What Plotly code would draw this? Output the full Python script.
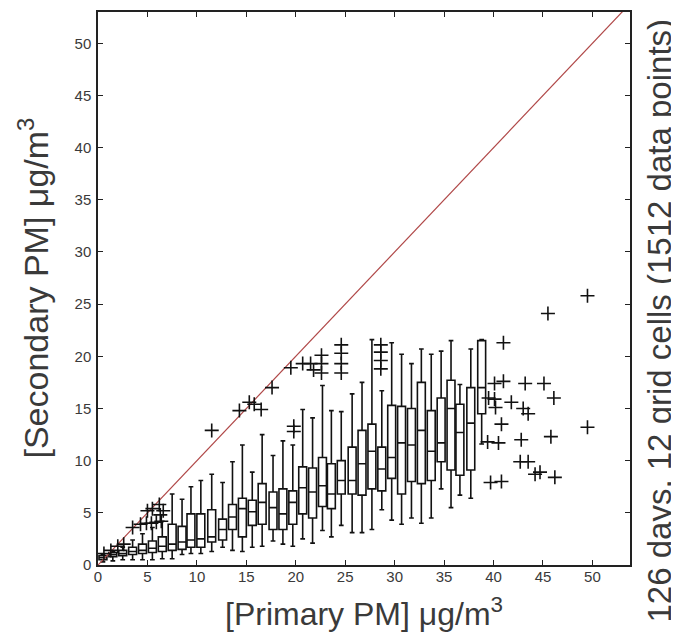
import plotly.graph_objects as go

# box positions (primary PM bins) and box statistics (secondary PM)
positions = [0.5, 1.5, 2.5, 3.5, 4.5, 5.5, 6.5, 7.5, 8.5, 9.4, 10.4, 11.5, 12.6,
             13.6, 14.6, 15.6, 16.6, 17.7, 18.7, 19.7, 20.7, 21.7, 22.7, 23.6,
             24.6, 25.7, 26.7, 27.7, 28.7, 29.7, 30.7, 31.7, 32.7, 33.7, 34.7,
             35.7, 36.6, 37.7, 38.8]
q1 = [0.5, 0.8, 0.9, 1.0, 1.1, 1.2, 1.3, 1.4, 1.5, 1.7, 1.7, 2.2, 2.4,
      3.4, 2.7, 3.8, 3.9, 3.4, 3.4, 3.9, 4.9, 4.5, 5.6, 5.4,
      6.8, 6.8, 6.7, 7.3, 7.1, 8.3, 6.8, 8.0, 7.8, 8.1, 9.9,
      9.1, 8.6, 9.1, 14.5]
medians = [0.7, 1.0, 1.1, 1.3, 1.4, 1.6, 1.8, 2.0, 2.2, 2.4, 2.5, 2.7, 3.4,
           4.6, 5.4, 5.1, 6.0, 5.5, 4.9, 6.0, 7.4, 7.0, 7.6, 6.8,
           8.1, 8.1, 9.7, 10.9, 9.2, 10.3, 11.7, 11.5, 12.9, 10.9, 11.7,
           15.0, 12.7, 13.6, 17.0]
q3 = [0.9, 1.2, 1.4, 1.7, 2.0, 2.3, 2.7, 3.9, 3.7, 4.9, 4.9, 5.3, 4.4,
      5.8, 6.4, 6.2, 7.8, 7.0, 7.3, 7.1, 9.4, 9.3, 10.3, 9.7,
      10.0, 11.3, 12.9, 13.5, 11.3, 15.3, 15.2, 15.0, 17.5, 14.8, 16.0,
      17.7, 15.4, 17.0, 21.5]
whisker_lo = [0.3, 0.4, 0.5, 0.5, 0.5, 0.5, 0.6, 0.6, 1.0, 1.1, 1.1, 1.3, 1.7,
              1.4, 1.3, 1.7, 1.8, 2.3, 2.0, 1.8, 2.5, 2.1, 3.3, 2.7,
              3.8, 3.1, 3.1, 3.4, 5.3, 4.3, 3.9, 4.5, 4.0, 4.5, 7.3,
              5.5, 6.7, 6.4, 11.6]
whisker_hi = [1.0, 1.3, 1.7, 2.4, 3.0, 3.6, 4.2, 6.8, 6.3, 7.5, 8.1, 8.7, 7.9,
              9.9, 11.5, 8.9, 12.5, 10.5, 11.9, 11.5, 14.9, 14.1, 17.2, 14.8,
              14.7, 16.4, 17.5, 21.6, 16.7, 21.3, 20.2, 19.3, 20.7, 20.2, 20.5,
              21.5, 17.3, 20.7, 21.6]

# outliers
out_x = [0.6, 1.3, 2.0, 2.6, 3.5, 4.3, 4.9, 5.4, 5.9, 6.4, 5.0, 5.5, 6.2, 6.3, 6.6,
         11.5, 14.3, 15.3, 15.8, 16.5, 17.6, 19.5, 19.8, 19.8, 20.7, 21.5, 21.8,
         22.6, 22.6, 22.6, 24.6, 24.6, 24.6, 24.6, 28.6, 28.6, 28.6, 28.6,
         41.0, 40.1, 41.0, 39.5, 40.1, 40.2, 40.8, 39.4, 40.5, 39.7, 40.8,
         49.5, 45.5, 43.2, 45.1, 46.1, 41.8, 43.0, 43.5, 42.8, 45.8, 49.5,
         42.7, 43.5, 44.2, 44.7, 46.2]
out_y = [1.1, 1.4, 1.8, 2.0, 3.6, 3.9, 4.0, 4.0, 4.1, 4.2, 5.2, 5.4, 5.8, 4.8, 5.2,
         12.9, 14.8, 15.6, 15.4, 14.9, 17.0, 18.9, 13.3, 12.8, 19.3, 19.3, 18.7,
         20.1, 19.3, 18.4, 21.1, 20.3, 19.3, 18.4, 21.1, 20.4, 19.6, 18.8,
         21.3, 17.4, 17.6, 16.0, 15.9, 15.1, 13.5, 11.8, 11.7, 7.9, 8.0,
         25.8, 24.1, 17.4, 17.4, 16.0, 15.6, 15.0, 14.5, 12.0, 12.3, 13.2,
         9.9, 9.9, 8.7, 8.9, 8.4]

diag = [0, 60]

FONT = "Liberation Sans, Arial, sans-serif"
TXT = "#3a3a3a"

fig = go.Figure()

fig.add_trace(go.Scatter(x=diag, y=diag, mode="lines",
                         line=dict(color="#b04848", width=1.2),
                         hoverinfo="skip", showlegend=False))

fig.add_trace(go.Box(x=positions, q1=q1, median=medians, q3=q3,
                     lowerfence=whisker_lo, upperfence=whisker_hi,
                     width=0.8, whiskerwidth=0.6, boxpoints=False,
                     fillcolor="rgba(255,255,255,0)",
                     line=dict(color="#111111", width=1.6),
                     showlegend=False))

fig.add_trace(go.Scatter(x=out_x, y=out_y, mode="markers",
                         marker=dict(symbol="cross-thin", size=10,
                                     line=dict(color="#111111", width=1.6)),
                         showlegend=False))

axis_common = dict(showgrid=False, zeroline=False, showline=True,
                   linecolor="#222222", linewidth=1.5, mirror="ticks",
                   ticks="inside", ticklen=5, tickwidth=1.2, tickcolor="#222222",
                   tickfont=dict(family=FONT, size=15, color=TXT),
                   dtick=5, tick0=0)

fig.update_xaxes(range=[0, 53.8], ticklabelstandoff=-3, **axis_common)
fig.update_yaxes(range=[0, 53], ticklabelstandoff=2, **axis_common)

fig.add_annotation(text="[Primary PM] μg/m<sup>3</sup>",
                   xref="paper", yref="paper", x=0.5, y=0, yshift=-47,
                   xanchor="center", yanchor="middle", showarrow=False,
                   font=dict(family=FONT, size=32, color=TXT))
fig.add_annotation(text="[Secondary PM] μg/m<sup>3</sup>",
                   xref="paper", yref="paper", x=0, y=0.5, xshift=-65,
                   xanchor="center", yanchor="middle", textangle=-90,
                   showarrow=False, font=dict(family=FONT, size=34, color=TXT))
fig.add_annotation(text="126 days, 12 grid cells (1512 data points)",
                   xref="paper", yref="paper", x=1, y=0.5, xshift=29, yshift=-32,
                   xanchor="center", yanchor="middle", textangle=-90,
                   showarrow=False, font=dict(family=FONT, size=33, color=TXT))

# page body adds an 8px offset, so the figure is sized to fit inside the window
fig.update_layout(width=671, height=631,
                  margin=dict(l=90, r=49, t=2, b=74),
                  plot_bgcolor="white", paper_bgcolor="white")

fig.write_html("out.html")
